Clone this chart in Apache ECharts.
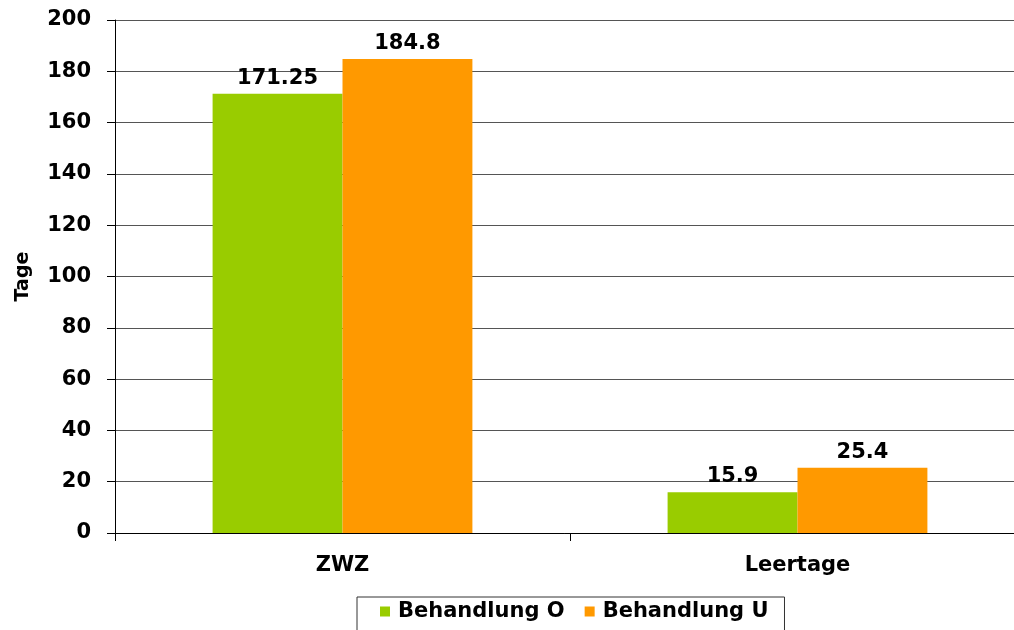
<!DOCTYPE html>
<html>
<head>
<meta charset="utf-8">
<script src="https://cdn.jsdelivr.net/npm/echarts@6/dist/echarts.min.js"></script>
<style>
html, body { margin: 0; padding: 0; background: #fff; }
#chart { width: 1014px; height: 630px; }
</style>
</head>
<body>
<div id="chart"></div>
<script>
const categories = ['ZWZ', 'Leertage'];
const behandlungO = [171.25, 15.9];
const behandlungU = [184.8, 25.4];
const seriesNames = ['Behandlung O', 'Behandlung U'];

const font = 'DejaVu Sans, Verdana, sans-serif';
const fs = 21;
const chart = echarts.init(document.getElementById('chart'));

chart.setOption({
    animation: false,
    textStyle: { fontFamily: font },
    grid: { left: 115, width: 910, top: 20, bottom: 97, outerBoundsMode: 'none' },
    legend: {
        data: seriesNames,
        left: 357,
        top: 597,
        padding: [4, 16, 20, 23],
        borderColor: '#333',
        borderWidth: 1,
        itemWidth: 10,
        itemHeight: 10,
        itemGap: 20,
        icon: 'rect',
        textStyle: { fontFamily: font, fontSize: fs, fontWeight: 'bold', color: '#000', padding: [0, 0, 0, 3] }
    },
    xAxis: {
        type: 'category',
        data: categories,
        axisLine: { lineStyle: { color: '#000' } },
        axisTick: { show: true, length: 8, lineStyle: { color: '#000' } },
        axisLabel: { fontFamily: font, fontSize: fs, fontWeight: 'bold', color: '#000', margin: 22 }
    },
    yAxis: {
        type: 'value',
        min: 0,
        max: 200,
        interval: 20,
        name: 'Tage',
        nameLocation: 'middle',
        nameGap: 82,
        nameTextStyle: { fontFamily: font, fontSize: fs - 2, fontWeight: 'bold', color: '#000' },
        axisLine: { show: true, lineStyle: { color: '#000' } },
        axisTick: { show: true, length: 8, lineStyle: { color: '#000' } },
        axisLabel: { fontFamily: font, fontSize: fs, fontWeight: 'bold', color: '#000', margin: 24 },
        splitLine: { lineStyle: { color: '#555', width: 1 } }
    },
    series: [
        {
            name: seriesNames[0],
            type: 'bar',
            data: behandlungO,
            barGap: '0%',
            barCategoryGap: '42.9%',
            itemStyle: { color: '#99CC00' },
            label: { show: true, position: 'top', distance: 5, fontFamily: font, fontSize: fs, fontWeight: 'bold', color: '#000' }
        },
        {
            name: seriesNames[1],
            type: 'bar',
            data: behandlungU,
            barGap: '0%',
            barCategoryGap: '42.9%',
            itemStyle: { color: '#FF9900' },
            label: { show: true, position: 'top', distance: 5, fontFamily: font, fontSize: fs, fontWeight: 'bold', color: '#000' }
        }
    ]
});
</script>
</body>
</html>
